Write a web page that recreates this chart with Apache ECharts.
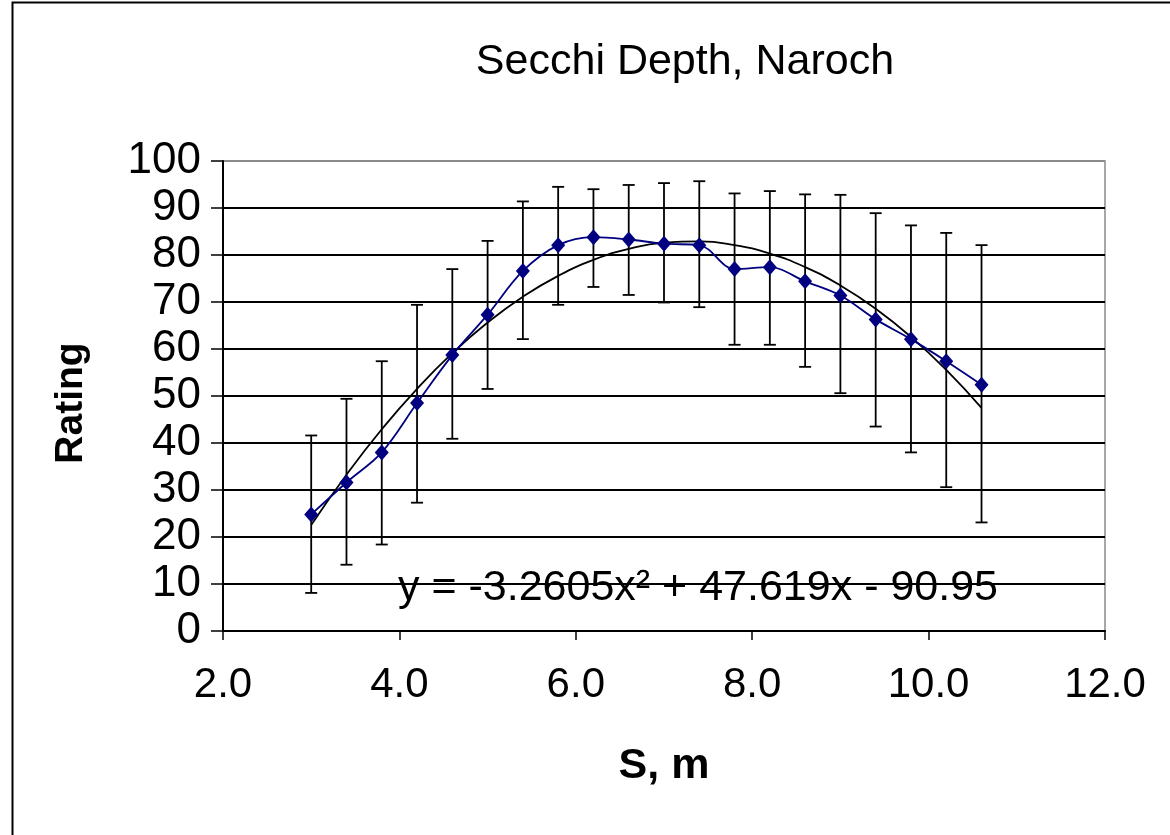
<!DOCTYPE html>
<html>
<head>
<meta charset="utf-8">
<script src="https://cdn.jsdelivr.net/npm/echarts@6/dist/echarts.min.js"></script>
<style>
html,body{margin:0;padding:0;background:#fff;}
#chart{width:1170px;height:835px;}
</style>
</head>
<body>
<div id="chart"></div>
<script>
const xValues = [3.0, 3.4, 3.8, 4.2, 4.6, 5.0, 5.4, 5.8, 6.2, 6.6, 7.0, 7.4, 7.8, 8.2, 8.6, 9.0, 9.4, 9.8, 10.2, 10.6];
const rating = [24.8, 31.6, 38.0, 48.5, 58.7, 67.3, 76.6, 82.1, 83.8, 83.3, 82.4, 82.1, 77.0, 77.4, 74.4, 71.4, 66.3, 62.1, 57.4, 52.4];
const errHigh = [41.6, 49.4, 57.4, 69.4, 77.0, 83.0, 91.4, 94.5, 94.0, 94.9, 95.3, 95.7, 93.1, 93.6, 92.9, 92.8, 88.9, 86.3, 84.7, 82.1];
const errLow = [8.1, 14.1, 18.4, 27.3, 40.9, 51.5, 62.1, 69.4, 73.2, 71.5, 69.9, 68.9, 60.9, 60.9, 56.2, 50.6, 43.5, 38.0, 30.6, 23.1];
const trend = [22.56, 33.26, 42.92, 51.53, 59.11, 65.63, 71.12, 75.56, 78.95, 81.31, 82.62, 82.89, 82.11, 80.29, 77.43, 73.52, 68.57, 62.58, 55.54, 47.46];
const titleText = 'Secchi Depth, Naroch';
const xName = 'S, m';
const yName = 'Rating';
const equationText = 'y = -3.2605x² + 47.619x - 90.95';

const FONT = '"Liberation Sans", Arial, sans-serif';

const mainData = xValues.map((x, i) => [x, rating[i]]);
const trendData = xValues.map((x, i) => [x, trend[i]]);
const errData = xValues.map((x, i) => [x, errLow[i], errHigh[i]]);

const splitColors = [];
for (let i = 0; i <= 10; i++) splitColors.push(i === 10 ? '#8a8a8a' : '#000');

const chart = echarts.init(document.getElementById('chart'), null, {renderer: 'canvas'});
chart.setOption({
  backgroundColor: '#fff',
  animation: false,
  title: {
    text: titleText,
    left: 680,
    top: 36,
    textAlign: 'center',
    textStyle: {fontFamily: FONT, fontWeight: 'normal', fontSize: 43, color: '#000'}
  },
  grid: {
    left: 223, right: 65, top: 161, bottom: 204,
    show: true, borderColor: '#8a8a8a', borderWidth: 1.5, backgroundColor: 'transparent'
  },
  xAxis: {
    type: 'value', min: 2, max: 12, interval: 2,
    name: xName, nameLocation: 'middle', nameGap: 114,
    nameTextStyle: {fontFamily: FONT, fontWeight: 'bold', fontSize: 43, color: '#000'},
    axisLine: {show: true, onZero: false, lineStyle: {color: '#000', width: 2}},
    axisTick: {show: true, inside: false, length: 9, lineStyle: {color: '#000', width: 1.5}},
    axisLabel: {margin: 33, fontFamily: FONT, fontSize: 42, color: '#000', formatter: v => v.toFixed(1)},
    splitLine: {show: false}
  },
  yAxis: {
    type: 'value', min: 0, max: 100, interval: 10,
    name: yName, nameLocation: 'middle', nameGap: 132, nameRotate: 90,
    nameTextStyle: {fontFamily: FONT, fontWeight: 'bold', fontSize: 39, color: '#000', padding: [0, 14, 0, 0]},
    axisLine: {show: true, lineStyle: {color: '#000', width: 2}},
    axisTick: {show: true, inside: false, length: 12, lineStyle: {color: '#000', width: 1.5}},
    axisLabel: {margin: 22, fontFamily: FONT, fontSize: 44, color: '#000'},
    splitLine: {show: true, lineStyle: {color: splitColors, width: 2}}
  },
  graphic: [
    {
      type: 'rect', silent: true, z: 100,
      shape: {x: 12.5, y: 2.5, width: 1300, height: 1000},
      style: {fill: 'none', stroke: '#000', lineWidth: 2}
    },
    {
      type: 'text', silent: true, z: 100,
      x: 398, y: 588,
      style: {text: equationText, font: '43px "Liberation Sans", Arial, sans-serif', fill: '#000', verticalAlign: 'middle', align: 'left'}
    }
  ],
  series: [
    {
      type: 'custom',
      name: 'error',
      z: 2,
      renderItem: function (params, api) {
        const x = api.value(0);
        const lo = api.coord([x, api.value(1)]);
        const hi = api.coord([x, api.value(2)]);
        const hw = 6;
        const st = {stroke: '#000', lineWidth: 1.8};
        return {
          type: 'group',
          children: [
            {type: 'line', shape: {x1: lo[0], y1: lo[1], x2: hi[0], y2: hi[1]}, style: st},
            {type: 'line', shape: {x1: lo[0] - hw, y1: lo[1], x2: lo[0] + hw, y2: lo[1]}, style: st},
            {type: 'line', shape: {x1: hi[0] - hw, y1: hi[1], x2: hi[0] + hw, y2: hi[1]}, style: st}
          ]
        };
      },
      encode: {x: 0, y: [1, 2]},
      data: errData
    },
    {
      type: 'line',
      name: 'trend',
      z: 3,
      data: trendData,
      smooth: true,
      showSymbol: false,
      symbol: 'none',
      lineStyle: {color: '#000', width: 1.8}
    },
    {
      type: 'line',
      name: 'rating',
      z: 4,
      data: mainData,
      smooth: 0.35,
      symbol: 'diamond',
      symbolSize: [14, 16],
      itemStyle: {color: '#000080'},
      lineStyle: {color: '#000080', width: 1.8}
    }
  ]
});
</script>
</body>
</html>
